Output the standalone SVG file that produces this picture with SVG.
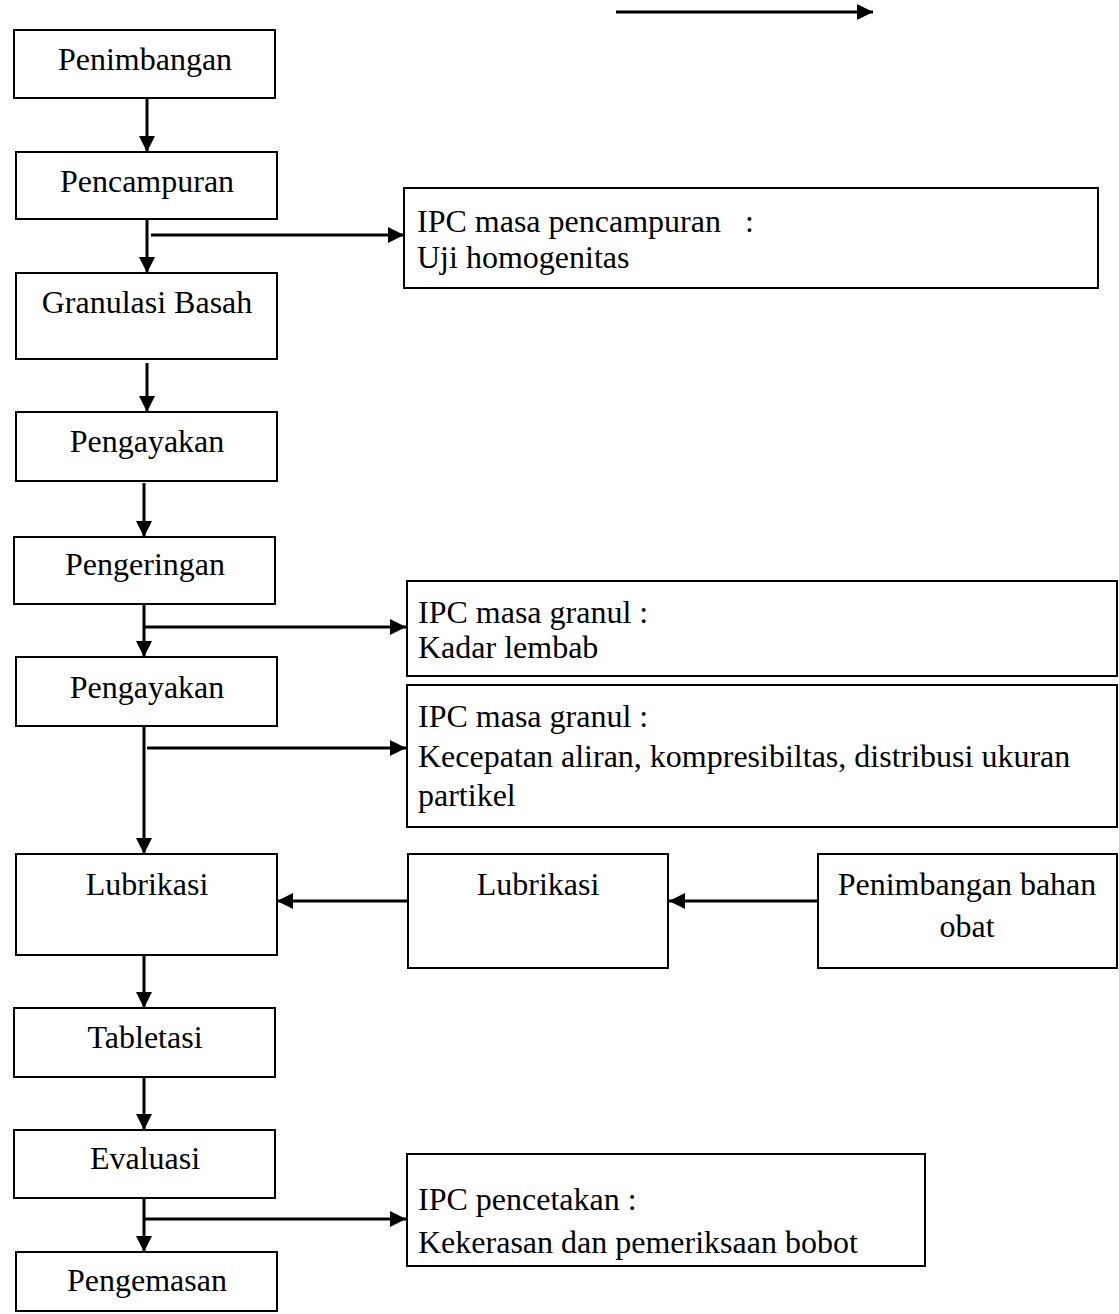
<svg xmlns="http://www.w3.org/2000/svg" width="1119" height="1314" viewBox="0 0 1119 1314">
  <style>
    .box { fill: #fff; stroke: #000; stroke-width: 2; }
    .lbl { font-family: "Liberation Serif", "Times New Roman", serif; font-size: 32px; fill: #000; }
    .mid { text-anchor: middle; }
    .wire { stroke: #000; stroke-width: 3; fill: none; }
    .arr { marker-end: url(#head); }
  </style>
  <defs>
    <marker id="head" markerUnits="userSpaceOnUse" markerWidth="17" markerHeight="17" refX="16" refY="8" orient="auto">
      <path d="M0,0 L16,8 L0,16 z" fill="#000"/>
    </marker>
  </defs>

  <rect width="1119" height="1314" fill="#fff"/>

  <!-- main process column -->
  <g id="n-penimbangan"><rect class="box" x="14" y="30" width="261" height="68"/><text class="lbl mid" x="145" y="70">Penimbangan</text></g>
  <g id="n-pencampuran"><rect class="box" x="16" y="152" width="261" height="67"/><text class="lbl mid" x="147" y="192">Pencampuran</text></g>
  <g id="n-granulasi"><rect class="box" x="16" y="273" width="261" height="86"/><text class="lbl mid" x="147" y="313">Granulasi Basah</text></g>
  <g id="n-pengayakan1"><rect class="box" x="16" y="412" width="261" height="69"/><text class="lbl mid" x="147" y="452">Pengayakan</text></g>
  <g id="n-pengeringan"><rect class="box" x="14" y="537" width="261" height="67"/><text class="lbl mid" x="145" y="575">Pengeringan</text></g>
  <g id="n-pengayakan2"><rect class="box" x="16" y="657" width="261" height="69"/><text class="lbl mid" x="147" y="698">Pengayakan</text></g>
  <g id="n-lubrikasi"><rect class="box" x="16" y="854" width="261" height="101"/><text class="lbl mid" x="147" y="895">Lubrikasi</text></g>
  <g id="n-tabletasi"><rect class="box" x="14" y="1008" width="261" height="69"/><text class="lbl mid" x="145" y="1048">Tabletasi</text></g>
  <g id="n-evaluasi"><rect class="box" x="14" y="1130" width="261" height="68"/><text class="lbl mid" x="145" y="1169">Evaluasi</text></g>
  <g id="n-pengemasan"><rect class="box" x="16" y="1252" width="261" height="59"/><text class="lbl mid" x="147" y="1291">Pengemasan</text></g>

  <!-- side inputs -->
  <g id="n-lubrikasi-side"><rect class="box" x="408" y="854" width="260" height="114"/><text class="lbl mid" x="538" y="895">Lubrikasi</text></g>
  <g id="n-penimbangan-obat"><rect class="box" x="818" y="854" width="299" height="114"/><text class="lbl mid" x="967" y="895">Penimbangan bahan</text><text class="lbl mid" x="967" y="937">obat</text></g>

  <!-- in-process control boxes -->
  <g id="n-ipc-campur"><rect class="box" x="404" y="188" width="694" height="100"/><text class="lbl" x="417" y="232">IPC masa pencampuran&#160;&#160;&#160;:</text><text class="lbl" x="417" y="268">Uji homogenitas</text></g>
  <g id="n-ipc-lembab"><rect class="box" x="407" y="581" width="710" height="95"/><text class="lbl" x="418" y="623">IPC masa granul :</text><text class="lbl" x="418" y="658">Kadar lembab</text></g>
  <g id="n-ipc-aliran"><rect class="box" x="407" y="685" width="710" height="142"/><text class="lbl" x="418" y="727">IPC masa granul :</text><text class="lbl" x="418" y="767">Kecepatan aliran, kompresibiltas, distribusi ukuran</text><text class="lbl" x="418" y="806">partikel</text></g>
  <g id="n-ipc-cetak"><rect class="box" x="407" y="1154" width="518" height="112"/><text class="lbl" x="418" y="1210">IPC pencetakan :</text><text class="lbl" x="418" y="1253">Kekerasan dan pemeriksaan bobot</text></g>

  <!-- connectors -->
  <g id="connectors">
    <line class="wire arr" x1="616" y1="12" x2="873" y2="12"/>
    <line class="wire arr" x1="147" y1="98" x2="147" y2="152"/>
    <line class="wire arr" x1="147" y1="219" x2="147" y2="273"/>
    <line class="wire arr" x1="151" y1="235" x2="404" y2="235"/>
    <line class="wire arr" x1="147" y1="363" x2="147" y2="412"/>
    <line class="wire arr" x1="144" y1="483" x2="144" y2="537"/>
    <line class="wire arr" x1="144" y1="604" x2="144" y2="657"/>
    <line class="wire arr" x1="144" y1="627" x2="406" y2="627"/>
    <line class="wire arr" x1="144" y1="726" x2="144" y2="854"/>
    <line class="wire arr" x1="147" y1="748" x2="406" y2="748"/>
    <line class="wire arr" x1="408" y1="901" x2="277" y2="901"/>
    <line class="wire arr" x1="818" y1="901" x2="669" y2="901"/>
    <line class="wire arr" x1="144" y1="955" x2="144" y2="1008"/>
    <line class="wire arr" x1="144" y1="1077" x2="144" y2="1130"/>
    <line class="wire arr" x1="144" y1="1198" x2="144" y2="1252"/>
    <line class="wire arr" x1="144" y1="1219" x2="406" y2="1219"/>
  </g>
</svg>
